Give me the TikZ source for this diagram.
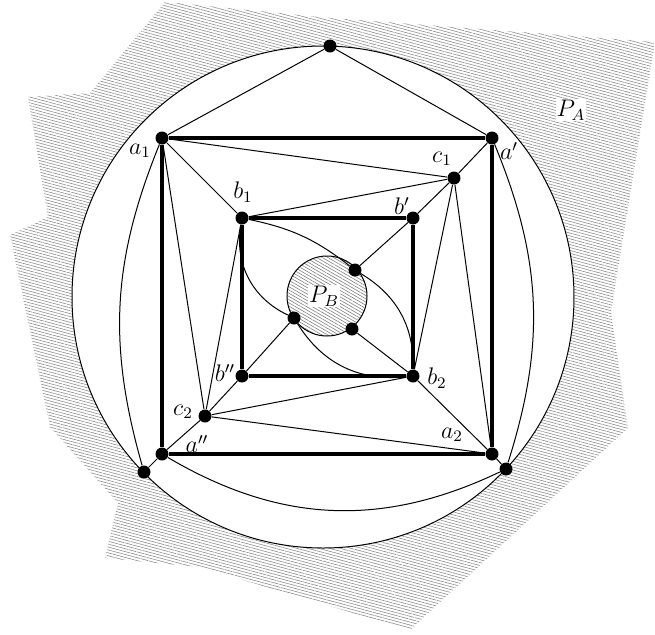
\documentclass[tikz,border=0pt]{standalone}
\usetikzlibrary{patterns.meta}
\tikzset{
  dot/.style={circle, fill=black, inner sep=0pt, minimum size=6.5pt},
  edge/.style={line width=0.5pt},
  sqedge/.style={line width=1.7pt},
  lbl/.style={inner sep=1pt, font=\large},
  hatchA/.style={pattern={Lines[angle=-15, distance=1.4pt, line width=0.3pt]}, pattern color=black!45},
  hatchB/.style={pattern={Lines[angle=-30, distance=1.4pt, line width=0.3pt]}, pattern color=black!50},
}

\begin{document}
\begin{tikzpicture}[x=0.5pt, y=-0.5pt]
  \useasboundingbox (0,0) rectangle (655,634);
  % the region P_A and the disc around the drawing
  \fill[hatchA] (165,2) -- (330,18) -- (655,42) -- (611,312) -- (628,428) -- (410,630)
    -- (200,567) -- (105,558) -- (118,503) -- (50,427) -- (10,235) -- (48,217)
    -- (28,97) -- (90,93) -- cycle;
  \draw[edge, fill=white] (323,297) circle[radius=125.5pt];
  \draw[edge, hatchB] (327,296) circle[radius=20pt];
  \node[lbl, fill=white, inner sep=0.5pt] (PA) at (571,110) {$P_A$};
  \node[lbl, fill=white, inner sep=0.5pt] (PB) at (324,296) {$P_B$};

  % vertices
  \node[dot] (T) at (330,46) {};
  \node[dot] (a1) at (162,138) {};
  \node[dot] (ap) at (492,138) {};
  \node[dot] (a2) at (492,454) {};
  \node[dot] (app) at (162,454) {};
  \node[dot] (L) at (144,472) {};
  \node[dot] (R) at (506,469) {};
  \node[dot] (b1) at (242,218) {};
  \node[dot] (bp) at (413,218) {};
  \node[dot] (b2) at (413,376) {};
  \node[dot] (bpp) at (242,376) {};
  \node[dot] (c1) at (454,178) {};
  \node[dot] (c2) at (205,416) {};
  \node[dot] (pu) at (355,270) {};
  \node[dot] (pl) at (294,318) {};
  \node[dot] (pd) at (352,329) {};

  % squares
  \draw[sqedge] (a1) -- (ap) -- (a2) -- (app) -- (a1);
  \draw[sqedge] (b1) -- (bp) -- (b2) -- (bpp) -- (b1);

  % straight edges
  \draw[edge] (T) -- (a1);
  \draw[edge] (T) -- (ap);
  \draw[edge] (a1) -- (b1);
  \draw[edge] (a1) -- (c1);
  \draw[edge] (a1) -- (c2);
  \draw[edge] (ap) -- (c1) -- (bp) -- (pu);
  \draw[edge] (c1) -- (b1);
  \draw[edge] (c1) -- (b2);
  \draw[edge] (c1) -- (a2);
  \draw[edge] (c2) -- (b1);
  \draw[edge] (c2) -- (b2);
  \draw[edge] (c2) -- (a2);
  \draw[edge] (L) -- (app) -- (c2) -- (bpp) -- (pl);
  \draw[edge] (pd) -- (b2) -- (a2) -- (R);

  % curved edges
  \draw[edge] (a1) to[bend right=19] (L);
  \draw[edge] (ap) to[bend left=20] (R);
  \draw[edge] (app) to[bend right=28] (R);
  \draw[edge] (b1) to[bend left=13] (pu);
  \draw[edge] (pu) to[bend left=30] (b2);
  \draw[edge] (b1) to[bend right=37] (pl);
  \draw[edge] (pl) to[bend right=32] (b2);

  % labels
  \node[lbl] (la1) at (140,151) {$a_1$};
  \node[lbl] (lap) at (509,151) {$a'$};
  \node[lbl] (la2) at (452,435) {$a_2$};
  \node[lbl] (lapp) at (197,444) {$a''$};
  \node[lbl] (lb1) at (243,192) {$b_1$};
  \node[lbl] (lbp) at (402,206) {$b'$};
  \node[lbl] (lb2) at (437,378) {$b_2$};
  \node[lbl] (lbpp) at (225,373) {$b''$};
  \node[lbl] (lc1) at (442,159) {$c_1$};
  \node[lbl] (lc2) at (183,412) {$c_2$};
\end{tikzpicture}
\end{document}
